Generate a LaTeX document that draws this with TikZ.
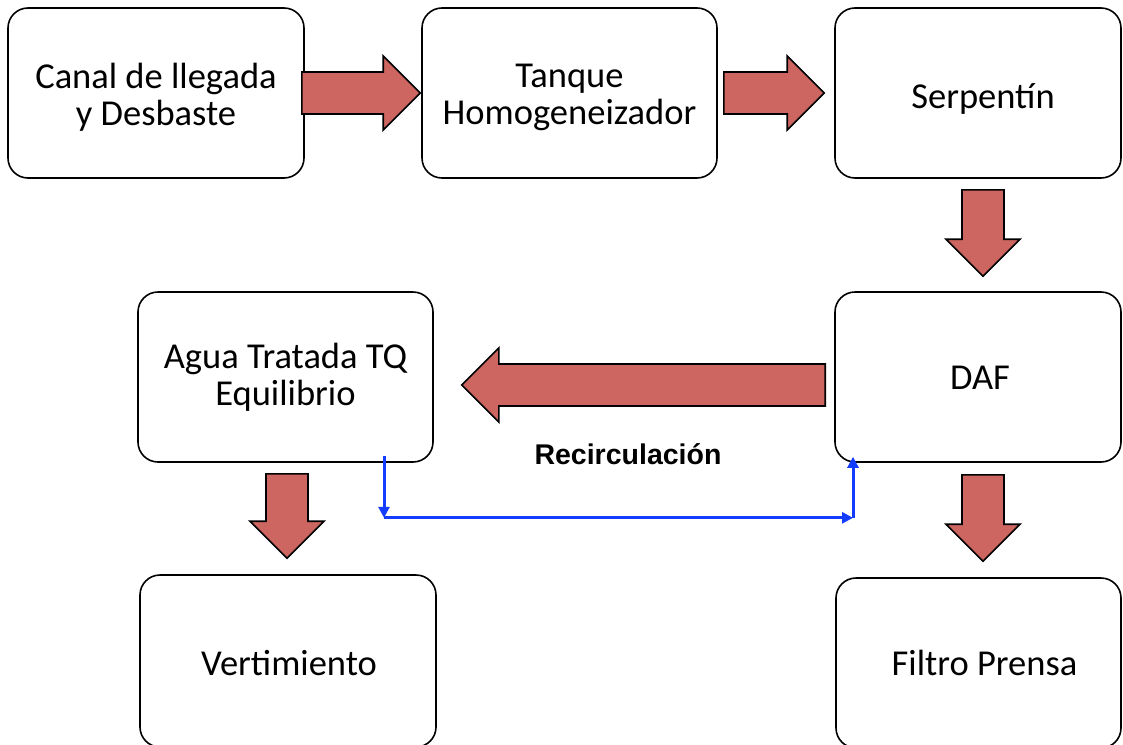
\documentclass[tikz,border=0pt]{standalone}
\usepackage{fontspec}
\setmainfont{Carlito}
\newfontfamily\labelfont{Liberation Sans}
\usetikzlibrary{calc,arrows.meta}
\definecolor{arrowred}{RGB}{205,102,96}
\definecolor{recblue}{RGB}{20,60,255}
\newcommand\blockarrow[2]{%
  \coordinate (ba-h) at ($(#2)!37pt!(#1)$);
  \draw[barrow] ($(#1)!21pt!90:(#2)$) -- ($(ba-h)!21pt!90:(#2)$) -- ($(ba-h)!37pt!90:(#2)$) -- (#2)
     -- ($(ba-h)!37pt!-90:(#2)$) -- ($(ba-h)!21pt!-90:(#2)$) -- ($(#1)!21pt!-90:(#2)$) -- cycle;}
\begin{document}
\begin{tikzpicture}[x=1pt,y=-1pt,
  box/.style={draw=black,line width=1.6pt,rounded corners=20pt,inner sep=0pt},
  boxtext/.style={align=center,inner sep=0pt,font=\fontsize{36.5}{37}\selectfont},
  barrow/.style={draw=black,line width=1.6pt,fill=arrowred,line join=miter},
  recirc/.style={draw=recblue,line width=3pt,-{Triangle[length=11pt,width=11pt]}}]
\useasboundingbox (0,0) rectangle (1123,744);
\fill[white] (0,0) rectangle (1123,744);
% boxes
\node[box,minimum width=296pt,minimum height=170pt] (canal) at (156,93) {};
\node[box,minimum width=295pt,minimum height=170pt] (tanque) at (569.5,93) {};
\node[box,minimum width=286pt,minimum height=170pt] (serp) at (978,93) {};
\node[box,minimum width=286pt,minimum height=170pt] (daf) at (978,377) {};
\node[box,minimum width=295pt,minimum height=170pt] (agua) at (285.5,377) {};
\node[box,minimum width=296pt,minimum height=172pt] (vert) at (288,661) {};
\node[box,minimum width=285pt,minimum height=170pt] (filtro) at (978.5,663) {};
% texts
\node[boxtext] (canal-t) at ($(canal)+(0,4)$) {Canal de llegada\\y Desbaste};
\node[boxtext] (tanque-t) at ($(tanque)+(0,4)$) {Tanque\\Homogeneizador};
\node[boxtext] (serp-t) at ($(serp)+(5,6)$) {Serpentín};
\node[boxtext] (daf-t) at ($(daf)+(2,1)$) {DAF};
\node[boxtext] (agua-t) at ($(agua)+(0,0)$) {Agua Tratada TQ\\Equilibrio};
\node[boxtext] (vert-t) at ($(vert)+(1,2)$) {Vertimiento};
\node[boxtext] (filtro-t) at ($(filtro)+(6,0)$) {Filtro Prensa};
% block arrow end points
\coordinate (a1s) at ($(canal.east)+(-3,0)$);
\coordinate (a1e) at ($(tanque.west)+(-1,0)$);
\coordinate (a2s) at ($(tanque.east)+(6,0)$);
\coordinate (a2e) at ($(serp.west)+(-10,0)$);
\coordinate (a3s) at ($(serp.south)+(5,11)$);
\coordinate (a3e) at ($(daf.north)+(5,-15)$);
\coordinate (a4s) at ($(daf.west)+(-9,8)$);
\coordinate (a4e) at ($(agua.east)+(28,8)$);
\coordinate (a5s) at ($(daf.south)+(5,12)$);
\coordinate (a5e) at ($(filtro.north)+(4.5,-16)$);
\coordinate (a6s) at ($(agua.south)+(1.5,11)$);
\coordinate (a6e) at ($(vert.north)+(-1,-16)$);
\blockarrow{a1s}{a1e}
\blockarrow{a2s}{a2e}
\blockarrow{a3s}{a3e}
\blockarrow{a4s}{a4e}
\blockarrow{a5s}{a5e}
\blockarrow{a6s}{a6e}
% recirculation
\node[font=\labelfont\bfseries\fontsize{28.5}{30}\selectfont,anchor=base,inner sep=0pt] (rec) at (628,464) {Recirculación};
\coordinate (r1) at ($(agua.south)+(98.5,-7)$);
\coordinate (r2) at ($(agua.south)+(98.5,55)$);
\coordinate (r3) at ($(daf.south)+(-125,55)$);
\coordinate (r4) at ($(daf.south)+(-125,-6)$);
\draw[recirc] (r1) -- (r2);
\draw[recirc] (r2) -- (r3);
\draw[recirc] (r3) -- (r4);
\end{tikzpicture}
\end{document}
